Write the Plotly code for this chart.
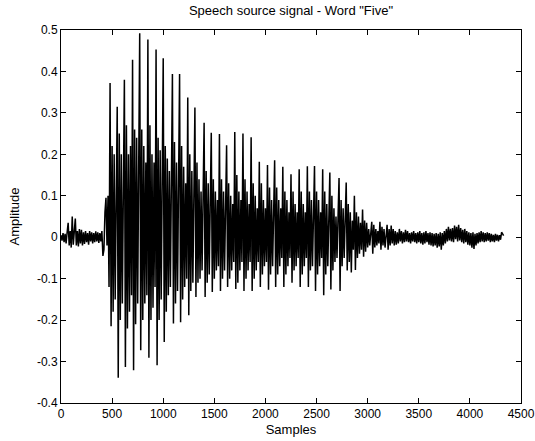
import numpy as np
import plotly.graph_objects as go

# Waveform amplitudes, one value every 10 samples
SAMPLE_STEP = 10
amp_0000 = [0.005, -0.008, 0.01, -0.012, 0.008, -0.015, 0.012, 0.035, -0.02, 0.015,
            -0.025, 0.05, -0.018, 0.02, 0.045, -0.02, 0.015, -0.022, 0.02, -0.015,
            0.018, -0.02, 0.012, -0.016, 0.015, -0.012, 0.01, -0.018, 0.015, -0.01,
            0.012, -0.015, 0.01, -0.012, 0.014, -0.01, 0.012, -0.014, 0.01, -0.01,
            0.015, -0.045, -0.03, 0.06, 0.095, -0.02, 0.1, -0.12, 0.372, -0.215]
amp_0500 = [0.22, -0.18, 0.2, -0.15, 0.16, 0.315, -0.339, 0.25, -0.2, 0.2,
            -0.16, 0.15, 0.38, -0.313, 0.27, -0.22, 0.2, -0.18, 0.22, -0.14,
            0.428, -0.321, 0.26, -0.21, 0.24, -0.16, 0.18, 0.492, -0.273, 0.26,
            -0.2, 0.22, -0.16, 0.18, -0.14, 0.477, -0.291, 0.27, -0.2, 0.2,
            -0.17, 0.18, -0.12, 0.453, -0.309, 0.24, -0.2, 0.21, -0.15, 0.16]
amp_1000 = [0.432, -0.253, 0.22, -0.18, 0.19, -0.14, 0.16, -0.12, 0.14, 0.394,
            -0.208, 0.23, -0.16, 0.18, -0.13, 0.14, 0.394, -0.205, 0.22, -0.15,
            0.17, -0.12, 0.13, -0.1, 0.337, -0.188, 0.2, -0.13, 0.16, -0.11,
            0.11, 0.313, -0.144, 0.18, -0.11, 0.14, -0.1, 0.11, -0.08, 0.08,
            0.276, -0.144, 0.16, -0.11, 0.13, -0.09, 0.09, 0.252, -0.132, 0.14]
amp_1500 = [-0.1, 0.11, -0.08, 0.09, -0.07, 0.249, -0.13, 0.14, -0.1, 0.11,
            -0.08, 0.08, 0.222, -0.12, 0.13, -0.1, 0.1, -0.08, 0.08, -0.06,
            0.254, -0.125, 0.15, -0.11, 0.11, -0.08, 0.09, -0.06, 0.25, -0.13,
            0.14, -0.1, 0.11, -0.08, 0.08, -0.06, 0.241, -0.13, 0.13, -0.1,
            0.1, -0.08, 0.07, -0.06, 0.182, -0.12, 0.13, -0.09, 0.09, -0.07]
amp_2000 = [0.07, -0.06, 0.174, -0.127, 0.12, -0.09, 0.09, -0.07, 0.06, 0.186,
            -0.12, 0.12, -0.09, 0.09, -0.07, 0.07, -0.05, 0.17, -0.12, 0.11,
            -0.09, 0.09, -0.07, 0.06, -0.05, 0.152, -0.11, 0.11, -0.08, 0.08,
            -0.07, 0.06, -0.05, 0.164, -0.12, 0.11, -0.09, 0.08, -0.07, 0.06,
            -0.05, 0.171, -0.12, 0.11, -0.08, 0.09, -0.07, 0.05, 0.172, -0.13]
amp_2500 = [0.11, -0.09, 0.09, -0.07, 0.06, -0.05, 0.164, -0.14, 0.11, -0.09,
            0.08, -0.07, 0.05, 0.156, -0.126, 0.1, -0.08, 0.07, -0.06, 0.05,
            -0.05, 0.04, 0.143, -0.13, 0.09, -0.07, 0.07, -0.05, 0.04, 0.132,
            -0.08, 0.08, -0.06, 0.06, -0.085, 0.04, -0.03, 0.1, -0.079, 0.06,
            -0.05, 0.05, -0.04, 0.035, -0.03, 0.067, -0.047, 0.04, -0.035, 0.035]
amp_3000 = [-0.025, 0.02, -0.02, 0.015, 0.037, -0.04, 0.03, -0.025, 0.02, -0.02,
            0.015, -0.015, 0.037, -0.03, 0.025, -0.02, 0.02, -0.025, 0.015, 0.03,
            -0.03, 0.02, -0.02, 0.028, -0.015, 0.02, -0.02, 0.015, -0.018, 0.012,
            -0.015, 0.02, -0.01, 0.015, -0.015, 0.012, -0.012, 0.018, -0.01, 0.015,
            -0.012, 0.01, -0.015, 0.012, -0.01, 0.015, -0.012, 0.01, -0.015, 0.012]
amp_3500 = [-0.012, 0.015, -0.015, 0.01, -0.018, 0.012, -0.015, 0.015, -0.012, 0.01,
            -0.018, 0.012, -0.02, 0.01, -0.022, 0.008, -0.02, 0.01, -0.025, 0.008,
            -0.022, 0.012, -0.03, 0.01, -0.02, 0.015, -0.015, 0.02, -0.01, 0.025,
            -0.008, 0.02, -0.01, 0.022, -0.012, 0.028, -0.005, 0.025, -0.01, 0.03,
            -0.008, 0.022, -0.012, 0.018, -0.015, 0.02, -0.012, 0.015, -0.018, 0.012]
amp_4000 = [-0.02, 0.01, -0.025, 0.012, -0.028, 0.008, -0.02, 0.01, -0.015, 0.012,
            -0.012, 0.015, -0.01, 0.012, -0.012, 0.01, -0.01, 0.012, -0.008, 0.01,
            -0.012, 0.008, -0.01, 0.006, -0.012, 0.008, -0.008, 0.006, -0.01, 0.005,
            -0.006, 0.012, 0.008, 0.004]

chunks = [amp_0000, amp_0500, amp_1000, amp_1500, amp_2000,
          amp_2500, amp_3000, amp_3500, amp_4000]
amplitude = [v for c in chunks for v in c]
samples = np.arange(len(amplitude)) * SAMPLE_STEP

x_tick_vals = [0, 500, 1000, 1500, 2000, 2500, 3000, 3500, 4000, 4500]
x_tick_text = ["0", "500", "1000", "1500", "2000", "2500", "3000", "3500", "4000", "4500"]
y_tick_vals = [-0.4, -0.3, -0.2, -0.1, 0, 0.1, 0.2, 0.3, 0.4, 0.5]
y_tick_text = ["-0.4", "-0.3", "-0.2", "-0.1", "0", "0.1", "0.2", "0.3", "0.4", "0.5"]

title_text = 'Speech source signal - Word "Five"'

fig = go.Figure()
fig.add_trace(go.Scatter(x=samples, y=amplitude, mode="lines",
                         line=dict(color="black", width=1.5), showlegend=False,
                         hoverinfo="skip"))

tick_font = dict(family="Liberation Sans Narrow, Arial, Liberation Sans", size=12, color="black")
label_font = dict(family="Arial, Liberation Sans", size=13, color="black")

axis_common = dict(showgrid=False, zeroline=False, showline=True, linecolor="black",
                   linewidth=1, mirror="ticks", ticks="inside", ticklen=5,
                   tickcolor="black", tickwidth=1, tickfont=tick_font, automargin=False)

fig.update_layout(
    width=535, height=441,
    margin=dict(l=61, r=14, t=30, b=38),
    paper_bgcolor="white", plot_bgcolor="white",
    title=dict(text=title_text, x=0.5, xref="paper", xanchor="center",
               y=1 - 10 / 441, yref="container", yanchor="middle", font=label_font),
    xaxis=dict(range=[0, 4500], tickvals=x_tick_vals, ticktext=x_tick_text,
               title=dict(text="Samples", font=label_font, standoff=4), **axis_common),
    yaxis=dict(range=[-0.4, 0.5], tickvals=y_tick_vals, ticktext=y_tick_text,
               title=dict(text="Amplitude", font=label_font, standoff=14), **axis_common),
)

fig.write_html("out.html", config={"displayModeBar": False},
               post_script="document.body.style.margin='0';")
